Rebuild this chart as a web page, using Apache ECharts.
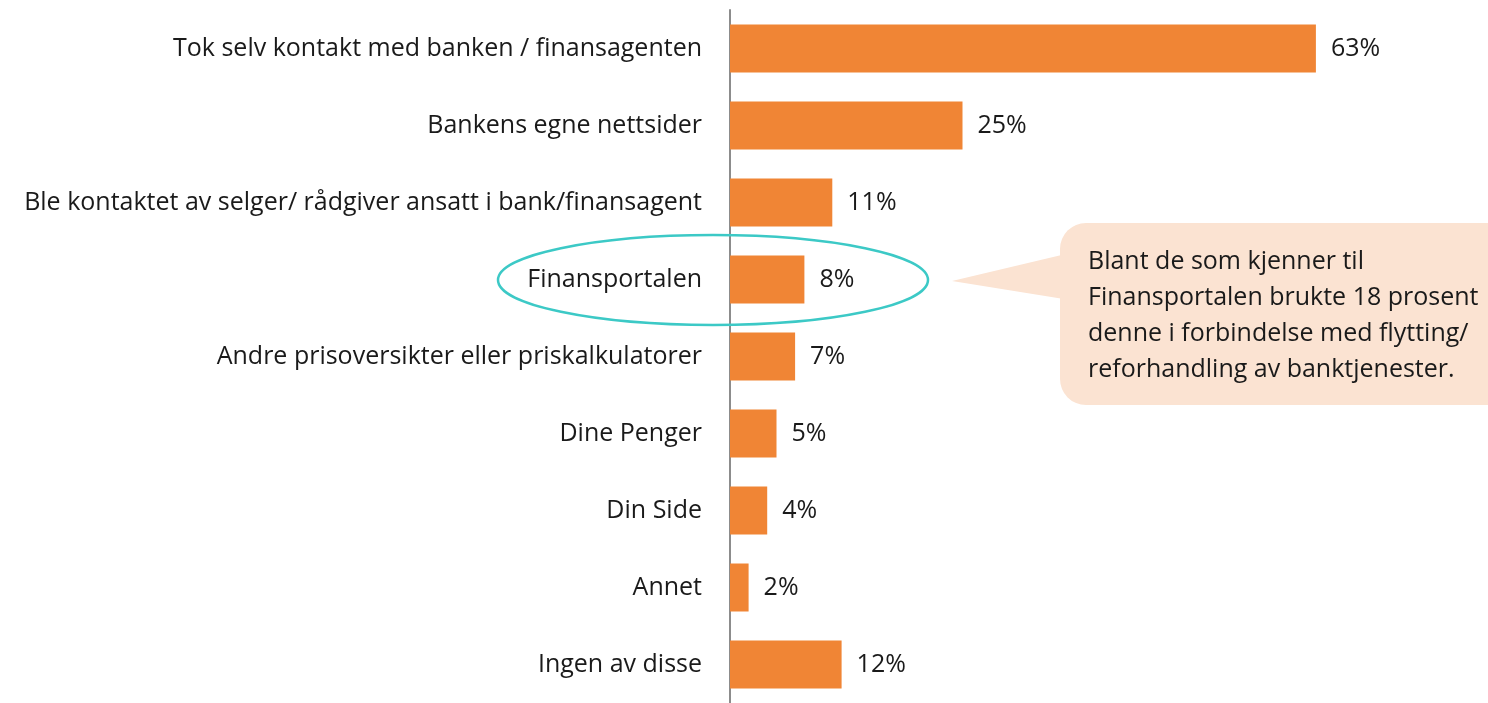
<!DOCTYPE html>
<html>
<head>
<meta charset="utf-8">
<script src="https://cdn.jsdelivr.net/npm/echarts@6/dist/echarts.min.js"></script>
<style>
  html, body { margin: 0; padding: 0; background: #fff; }
  #chart { width: 1488px; height: 703px; }
</style>
</head>
<body>
<div id="chart"></div>
<script>
const categories = [
  "Tok selv kontakt med banken / finansagenten",
  "Bankens egne nettsider",
  "Ble kontaktet av selger/ rådgiver ansatt i bank/finansagent",
  "Finansportalen",
  "Andre prisoversikter eller priskalkulatorer",
  "Dine Penger",
  "Din Side",
  "Annet",
  "Ingen av disse"
];
const values = [63, 25, 11, 8, 7, 5, 4, 2, 12];
const calloutText = [
  "Blant de som kjenner til",
  "Finansportalen brukte 18 prosent",
  "denne i forbindelse med flytting/",
  "reforhandling av banktjenester."
];

const font = "'Open Sans', Roboto, sans-serif";
const chart = echarts.init(document.getElementById("chart"));

const option = {
  backgroundColor: "#ffffff",
  animation: false,
  grid: { left: 730, width: 744, top: 10, bottom: 0 },
  xAxis: {
    type: "value",
    min: 0,
    max: 80,
    show: false
  },
  yAxis: {
    type: "category",
    inverse: true,
    data: categories,
    axisTick: { show: false },
    axisLine: { show: true, lineStyle: { color: "#8c8c8c", width: 2 } },
    axisLabel: {
      margin: 28,
      fontSize: 25,
      fontWeight: 400,
      fontFamily: font,
      color: "#1a1a1a"
    }
  },
  series: [
    {
      type: "bar",
      data: values,
      barWidth: 48,
      itemStyle: { color: "#F08535" },
      label: {
        show: true,
        position: "right",
        distance: 15,
        formatter: "{c}%",
        fontSize: 25,
        fontWeight: 400,
        fontFamily: font,
        color: "#1a1a1a"
      }
    }
  ],
  graphic: [
    {
      type: "polygon",
      z: 10,
      shape: { points: [[952, 281], [1070, 253], [1070, 300]] },
      style: { fill: "#FBE3D2" }
    },
    {
      type: "rect",
      z: 10,
      shape: { x: 1060, y: 223, width: 460, height: 182, r: 26 },
      style: { fill: "#FBE3D2" }
    },
    {
      type: "text",
      z: 11,
      left: 1088,
      top: 244,
      style: {
        text: calloutText.join("\n"),
        fontSize: 25,
        fontWeight: 400,
        lineHeight: 36,
        fontFamily: font,
        fill: "#1a1a1a"
      }
    },
    {
      type: "ellipse",
      z: 12,
      shape: { cx: 713, cy: 280, rx: 215, ry: 45 },
      style: { fill: null, stroke: "#3CC9C6", lineWidth: 2.5 }
    }
  ]
};

chart.setOption(option);
window.addEventListener("resize", () => chart.resize());
</script>
</body>
</html>
